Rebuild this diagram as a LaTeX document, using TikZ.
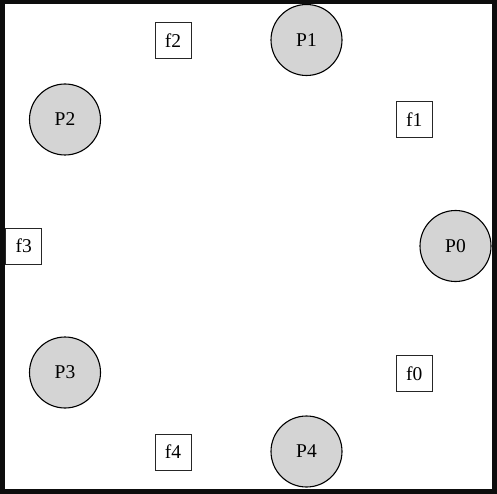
\documentclass[tikz,border=0pt]{standalone}
\usepackage{fontspec}
\setmainfont{Liberation Serif}
\begin{document}
\begin{tikzpicture}[x=1pt,y=-1pt,
  phil/.style={circle,draw=black,line width=1.1pt,fill=black!17,minimum size=71pt,inner sep=0pt,font=\fontsize{19.5}{22}\selectfont},
  fork/.style={rectangle,draw=black!85,line width=1pt,fill=white,minimum size=36pt,inner sep=0pt,font=\fontsize{19.5}{22}\selectfont}]
\fill[black!95] (0,0) rectangle (497,494);
\fill[white] (5,4) rectangle (492,489);
\node[phil] (p0) at (455.5,246) {P0};
\node[phil] (p1) at (306.5,40) {P1};
\node[phil] (p2) at (65,119.5) {P2};
\node[phil] (p3) at (65,372.5) {P3};
\node[phil] (p4) at (306.5,451.5) {P4};
\node[fork] (f0) at (414.3,373.3) {f0};
\node[fork] (f1) at (414.3,119.2) {f1};
\node[fork] (f2) at (173,40.7) {f2};
\node[fork] (f3) at (23.7,246) {f3};
\node[fork] (f4) at (173,452) {f4};
\fill[black!95] (0,0) rectangle (5,494);
\fill[black!95] (0,0) rectangle (497,4);
\fill[black!95] (492,0) rectangle (497,494);
\fill[black!95] (0,489) rectangle (497,494);
\end{tikzpicture}
\end{document}
